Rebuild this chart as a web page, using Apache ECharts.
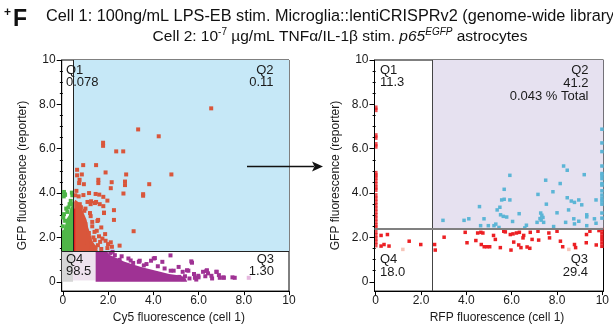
<!DOCTYPE html>
<html><head><meta charset="utf-8">
<script src="https://cdn.jsdelivr.net/npm/echarts@6/dist/echarts.min.js"></script>
<style>html,body{margin:0;padding:0;background:#fff}#c{width:613px;height:329px}</style>
</head><body><div id="c"></div>
<script>
// ---------- tick labels ----------
const xTickValues = [0, 2, 4, 6, 8, 10];
const yTickValues = [0, 2, 4, 6, 8, 10];
const yMinorValues = [0.5, 1, 1.5, 2.5, 3, 3.5, 4.5, 5, 5.5, 6.5, 7, 7.5, 8.5, 9, 9.5];

// ---------- gates ----------
const leftGateX = 0.47, leftGateY = 1.39;
const rightGateX = 2.5, rightGateY = 2.38;

// ---------- left plot (Cy5 vs GFP) ----------
const greenCore = [[-0.04,1.39],[0.47,1.39],[0.47,3.4],[0.4,3.45],[0.33,3.3],[0.27,3.0],[0.18,2.85],[0.1,2.55],[0.03,2.35],[-0.04,2.3]];
const greenPts = [[0.05,4.05],[0.1,3.92],[0.04,3.85],[0.4,4.02],[0.42,3.9],[0.35,3.65],[0.38,3.5],[0.15,3.3],[0.25,3.35],[0.05,3.05],[0.02,2.9],[0.1,2.75],[0.0,2.5],[0.3,3.5],[0.2,3.15],[0.08,3.95]];
const redStrip = [[0.45,1.39],[0.55,1.39],[0.55,3.3],[0.45,3.3]];
const orangeCore = [[0.5,1.39],[1.55,1.39],[1.45,1.62],[1.3,1.85],[1.22,2.15],[1.12,2.45],[1.05,2.8],[0.92,3.1],[0.8,3.4],[0.68,3.6],[0.55,3.7],[0.5,3.6]];
const orangePts = [[6.56,7.82],[3.33,6.87],[4.24,6.56],[1.78,6.27],[1.78,6.13],[2.36,5.88],[2.67,5.88],[4.80,4.84],[2.80,4.84],[3.82,4.40],[3.55,3.88],[3.55,3.95],[3.13,2.28],[0.90,5.26],[1.47,5.26],[0.63,5.05],[0.63,4.8],[0.84,4.84],[1.89,4.93],[1.57,4.6],[1.57,4.45],[2.16,4.49],[2.75,4.52],[2.75,4.36],[0.74,4.6],[0.72,4.45],[0.93,4.4],[2.12,4.22],[2.68,3.98],[1.61,3.93],[1.47,3.60],[1.25,3.63],[1.97,3.66],[1.79,3.41],[1.82,3.12],[2.26,3.23],[2.26,2.79],[1.56,2.79],[1.23,2.96],[1.87,2.15],[2.12,1.78],[2.51,1.63],[1.89,1.85],[1.41,1.88],[1.26,1.55],[1.45,1.55],[1.70,1.48],[1.97,1.52],[2.17,1.58],[1.16,4.0],[0.91,3.91],[1.45,3.96],[1.79,3.83],[0.55,3.9],[1.09,3.6],[1.23,3.5],[1.42,3.55],[1.63,3.5],[0.75,3.5],[0.8,3.36],[0.95,3.2],[1.53,2.74],[1.82,3.1],[1.3,2.5],[1.5,2.3],[1.7,2.45],[1.35,2.0],[1.6,2.05],[1.15,2.2],[1.0,2.6],[0.85,2.9],[1.75,1.95],[2.0,1.7],[1.1,1.75],[1.55,1.65],[1.2,3.1],[1.0,3.3],[0.6,4.1],[0.7,3.85],[1.3,2.7],[1.4,2.25],[1.65,1.8]];
const purpleCore = [[1.45,0.0],[1.45,1.39],[1.95,1.39],[2.05,1.22],[2.35,1.08],[2.7,0.92],[3.1,0.78],[3.5,0.65],[3.9,0.55],[4.3,0.45],[4.7,0.35],[5.1,0.3],[5.4,0.22],[5.5,0.0]];
const purplePts = [[3.0,0.96],[3.36,0.9],[4.02,1.05],[4.76,1.19],[5.12,0.67],[5.71,0.86],[5.49,0.52],[6.2,0.45],[6.37,0.52],[6.8,0.45],[7.1,0.2],[7.5,0.2],[4.07,1.07],[2.51,0.99],[3.11,0.85],[3.58,0.74],[5.68,0.92],[2.1,1.3],[2.3,1.2],[2.6,1.15],[2.9,1.05],[3.4,0.95],[3.7,0.8],[4.2,0.7],[4.5,0.6],[4.9,0.5],[5.3,0.45],[5.8,0.35],[6.0,0.2],[6.3,0.25],[6.6,0.15],[6.9,0.3],[5.6,0.15],[5.9,0.1],[4.4,0.9],[3.9,0.95],[2.2,1.35],[5.55,0.5],[6.35,0.49],[6.42,0.38],[6.57,0.27],[6.79,0.45],[6.94,0.18],[7.12,0.18],[7.6,0.18],[4.9,0.2],[5.0,0.15],[5.15,0.22],[5.3,0.12],[5.4,0.25],[5.84,0.18],[5.99,0.27],[4.77,0.5]];
const leftPalePts = [[8.22,0.18]];

// ---------- right plot (RFP vs GFP) ----------
const bluePts = [[2.97,2.77],[3.90,2.77],[4.11,2.84],[4.58,3.39],[4.78,2.84],[4.63,2.53],[4.97,2.53],[5.22,2.53],[5.3,2.6],[5.44,2.45],[5.36,3.24],[5.48,3.36],[5.56,3.69],[5.67,3.72],[5.67,4.17],[5.92,3.69],[5.92,4.80],[5.51,3.02],[5.63,2.95],[5.78,2.92],[6.04,2.72],[6.33,3.07],[6.58,2.43],[6.65,2.55],[7.16,3.94],[7.12,2.68],[7.25,2.85],[7.28,3.1],[7.33,3.0],[7.38,2.9],[7.3,2.78],[7.5,4.58],[7.53,3.5],[7.41,2.68],[7.82,4.06],[7.85,2.49],[8.0,3.11],[8.14,4.43],[8.29,5.22],[8.45,5.03],[8.38,2.68],[8.45,3.79],[8.51,3.24],[8.63,3.64],[8.77,3.58],[8.74,2.84],[8.77,2.61],[8.96,3.69],[8.96,2.73],[9.09,3.47],[9.2,4.83],[9.31,3.02],[9.31,2.93],[9.31,2.53],[9.65,2.84],[9.72,3.69],[9.72,2.64],[9.98,6.88],[9.98,6.26],[9.98,5.87],[9.98,5.22],[9.98,4.88],[9.98,4.8],[9.98,4.65],[9.98,4.43],[9.98,4.36],[9.98,4.1],[9.98,3.91],[9.98,3.75],[9.98,3.64],[9.98,3.5],[9.98,3.1],[9.98,2.87]];
const redPts = [[0.24,2.09],[0.52,2.13],[0.24,1.61],[0.37,1.68],[0.59,1.61],[1.48,1.83],[1.99,1.68],[2.6,1.68],[2.63,1.43],[3.02,2.01],[3.95,2.23],[4.03,1.76],[4.42,1.86],[4.5,2.2],[4.64,2.23],[4.73,2.2],[4.66,1.68],[4.79,1.58],[4.91,1.58],[5.03,1.58],[5.2,2.09],[5.28,1.91],[5.5,1.54],[5.65,2.28],[5.72,2.25],[5.94,2.13],[6.06,2.16],[6.21,2.2],[6.34,2.23],[5.97,1.43],[6.09,1.79],[6.31,1.66],[6.41,1.54],[6.5,1.98],[6.53,2.09],[6.68,1.57],[6.8,1.51],[6.82,2.23],[6.9,1.91],[7.16,2.28],[7.19,1.88],[7.64,2.2],[7.67,1.98],[8.0,2.28],[8.15,1.83],[8.25,1.58],[8.77,1.68],[8.82,1.54],[9.3,2.13],[9.29,1.76],[9.45,2.28],[9.73,1.66],[9.85,2.31],[9.98,2.35],[9.98,2.2],[9.98,2.05],[9.98,1.9],[9.98,1.75],[9.98,1.6]];
const redEdgePts = [[0.03,7.85],[0.03,7.75],[0.03,6.6],[0.03,6.5],[0.03,6.2],[0.03,6.1],[0.03,4.9],[0.03,4.8],[0.03,4.7],[0.03,4.55],[0.03,4.4],[0.03,4.25],[0.03,4.15],[0.03,3.9],[0.03,3.75],[0.03,3.6],[0.03,3.45],[0.03,3.3],[0.03,3.15],[0.03,3.0],[0.03,2.85],[0.03,2.7],[0.03,2.55],[0.03,2.45],[0.03,2.25],[0.03,2.1],[0.03,1.95],[0.03,1.8],[0.03,1.65]];
const rightPalePts = [[1.2,1.46],[8.52,1.46]];

const FONT = '"Liberation Sans", Arial, sans-serif';
const TXT = '#1a1a1a';

function fmt(v){ return (v === 0 || v === 10) ? String(v) : v.toFixed(1); }

function xAx(g, min, max, name, pad){
  return { type:'value', gridIndex:g, min:min, max:max, name:name, nameLocation:'middle', nameGap:18,
    nameTextStyle:{fontFamily:FONT, fontSize:12, color:TXT, padding:[0,0,0,pad]},
    axisLine:{show:true, onZero:false, lineStyle:{color:'#000', width:1}},
    axisTick:{show:true, length:4, customValues:xTickValues, lineStyle:{color:'#000'}},
    axisLabel:{customValues:xTickValues, formatter:fmt, margin:4, fontFamily:FONT, fontSize:12, color:TXT},
    splitLine:{show:false} };
}
function yAx(g, name){
  return { type:'value', gridIndex:g, min:-0.42, max:10, name:name, nameLocation:'middle', nameGap:33,
    nameTextStyle:{fontFamily:FONT, fontSize:12, color:TXT},
    axisLine:{show:true, onZero:false, lineStyle:{color:'#000', width:1}},
    axisTick:{show:true, length:5, customValues:yTickValues, lineStyle:{color:'#000'}},
    axisLabel:{customValues:yTickValues, formatter:fmt, margin:6, fontFamily:FONT, fontSize:12, color:TXT},
    splitLine:{show:false} };
}
function yMinor(g){
  return { type:'value', gridIndex:g, min:-0.42, max:10, position:'left',
    axisLine:{show:false}, axisLabel:{show:false}, splitLine:{show:false},
    axisTick:{show:true, length:3, customValues:yMinorValues, lineStyle:{color:'#000'}} };
}
function poly(xi, yi, pts, color, z){
  return { type:'custom', xAxisIndex:xi, yAxisIndex:yi, z:z, silent:true, data:[0],
    renderItem:function(params, api){
      return { type:'polygon', shape:{points: pts.map(function(p){ return api.coord(p); })}, style:{fill:color} };
    } };
}
function pts(xi, yi, data, color, size, z){
  return { type:'scatter', xAxisIndex:xi, yAxisIndex:yi, data:data, symbol:'rect', symbolSize:size, z:z,
    silent:true, itemStyle:{color:color, opacity:1} };
}
function qLabel(x, y, text, align, lh){
  return {type:'text', z:100, zlevel:1, x:x, y:y, style:{text:text, font:'13px '+FONT, lineHeight:lh || 12.5, align:align, fill:TXT}};
}

const option = {
  animation:false,
  backgroundColor:'#fff',
  grid:[
    {left:61.7, right:324, top:60, bottom:35, show:true, borderColor:'#000', borderWidth:1, backgroundColor:'#fff'},
    {left:374.5, right:9.5, top:60, bottom:35, show:true, borderColor:'#000', borderWidth:1, backgroundColor:'#fff'}
  ],
  xAxis:[ xAx(0, -0.05, 10, 'Cy5 fluorescence (cell 1)', 7), xAx(1, -0.05, 10.05, 'RFP fluorescence (cell 1)', 16) ],
  yAxis:[ yAx(0, 'GFP fluorescence (reporter)'), yMinor(0), yAx(1, 'GFP fluorescence (reporter)'), yMinor(1) ],
  series:[
    { type:'scatter', xAxisIndex:0, yAxisIndex:0, data:[], z:1, silent:true,
      markArea:{ silent:true, label:{show:false}, data:[
        [{xAxis:leftGateX, yAxis:leftGateY, itemStyle:{color:'#c6e8f7'}}, {xAxis:10, yAxis:10}],
        [{xAxis:-0.05, yAxis:0, itemStyle:{color:'#d6d6d6'}}, {xAxis:0.45, yAxis:leftGateY}],
        [{xAxis:0.45, yAxis:0.06, itemStyle:{color:'#eee2ee'}}, {xAxis:1.45, yAxis:1.37}]
      ]} },
    poly(0,0, greenCore, '#4fb648', 2),
    poly(0,0, orangeCore, '#d9563b', 2),
    poly(0,0, purpleCore, '#9f3294', 2),
    poly(0,0, redStrip, '#e3201f', 3),
    pts(0,0, greenPts, '#4fb648', 4, 3),
    pts(0,0, orangePts, '#d9563b', 4, 3),
    pts(0,0, purplePts, '#9f3294', 4, 3),
    pts(0,0, leftPalePts, '#e6b8df', 4, 3),
    { type:'scatter', xAxisIndex:0, yAxisIndex:0, data:[], z:6, silent:true,
      markLine:{ silent:true, symbol:'none', label:{show:false}, lineStyle:{color:'#222', width:1, type:'solid'},
        data:[
          [{coord:[leftGateX, leftGateY]}, {coord:[leftGateX, 10]}],
          [{coord:[-0.05, leftGateY]}, {coord:[10, leftGateY]}]
        ]} },
    { type:'scatter', xAxisIndex:1, yAxisIndex:2, data:[], z:1, silent:true,
      markArea:{ silent:true, label:{show:false}, data:[
        [{xAxis:rightGateX, yAxis:rightGateY, itemStyle:{color:'#e6e1f0'}}, {xAxis:10.05, yAxis:10}]
      ]} },
    pts(1,2, bluePts, '#5cb5d6', 3.5, 3),
    pts(1,2, redPts, '#ec2024', 3.5, 3),
    { type:'scatter', xAxisIndex:1, yAxisIndex:2, data:redEdgePts, symbol:'rect', symbolSize:[2.5,4.5], z:3, silent:true, itemStyle:{color:'#ec2024'} },
    pts(1,2, rightPalePts, '#f6c4b8', 3.5, 3),
    { type:'scatter', xAxisIndex:1, yAxisIndex:2, data:[], z:6, silent:true,
      markLine:{ silent:true, symbol:'none', label:{show:false},
        data:[
          [{coord:[rightGateX, -0.42], lineStyle:{color:'#444', width:1, type:'solid'}}, {coord:[rightGateX, 10]}],
          [{coord:[-0.05, rightGateY], lineStyle:{color:'#808080', width:2, type:'solid'}}, {coord:[10.05, rightGateY]}]
        ]} }
  ],
  graphic:[
    {type:'text', z:100, zlevel:1, x:4, y:7, style:{text:'+', font:'bold 12px '+FONT, fill:'#111'}},
    {type:'text', z:100, zlevel:1, x:13, y:8, style:{text:'F', font:'bold 23px '+FONT, fill:'#111'}},
    {type:'text', z:100, zlevel:1, x:46, y:9, style:{text:'Cell 1: 100ng/mL LPS-EB stim. Microglia::lentiCRISPRv2 (genome-wide library', font:'16.3px '+FONT, fill:'#111'}},
    {type:'text', z:100, zlevel:1, x:340, y:27, style:{
      text:'{a|Cell 2: 10}{s|-7}{a| µg/mL TNFα/IL-1β stim. }{i|p65}{si|EGFP}{a| astrocytes}',
      align:'center', fill:'#111',
      rich:{
        a:{fontFamily:FONT, fontSize:15.5, lineHeight:18, verticalAlign:'bottom', fill:'#111'},
        s:{fontFamily:FONT, fontSize:10, lineHeight:18, verticalAlign:'top', fill:'#111'},
        i:{fontFamily:FONT, fontSize:15.5, fontStyle:'italic', lineHeight:18, verticalAlign:'bottom', fill:'#111'},
        si:{fontFamily:FONT, fontSize:10, fontStyle:'italic', lineHeight:18, verticalAlign:'top', fill:'#111'}
      }}},
    qLabel(66, 64, 'Q1\n0.078', 'left'),
    qLabel(273.5, 64, 'Q2\n0.11', 'right'),
    qLabel(66, 253, 'Q4\n98.5', 'left'),
    qLabel(274, 253, 'Q3\n1.30', 'right'),
    qLabel(380, 64, 'Q1\n11.3', 'left'),
    qLabel(588.5, 64, 'Q2\n41.2\n0.043 % Total', 'right', 13),
    qLabel(380, 253.5, 'Q4\n18.0', 'left'),
    qLabel(588, 253.5, 'Q3\n29.4', 'right'),
    {type:'line', z:100, zlevel:1, shape:{x1:247, y1:166.5, x2:314, y2:166.5}, style:{stroke:'#111', lineWidth:1.5}},
    {type:'polygon', z:100, zlevel:1, shape:{points:[[323,166.5],[312,161.5],[314.5,166.5],[312,171.5]]}, style:{fill:'#111'}}
  ]
};
const chart = echarts.init(document.getElementById('c'), null, {renderer:'canvas'});
chart.setOption(option);
</script></body></html>
